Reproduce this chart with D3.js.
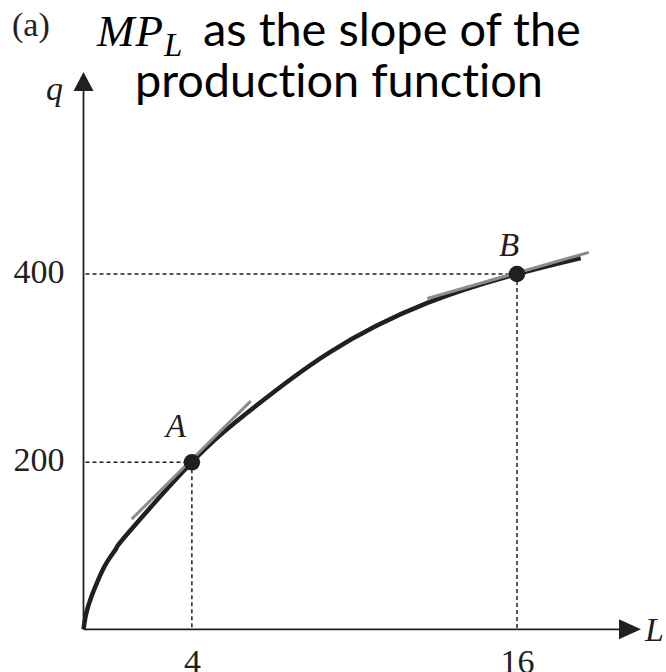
<!DOCTYPE html>
<html>
<head>
<meta charset="utf-8">
<script src="https://cdn.jsdelivr.net/npm/d3@7"></script>
<style>
  body { margin: 0; background: #fff; }
  svg { display: block; }
</style>
</head>
<body>
<svg id="chart" width="666" height="672"></svg>
<script>
'use strict';

// production function q(L)
const curveL = [0, 0.10, 0.29, 0.54, 0.84, 1.21, 1.64, 4, 6.02, 9.04, 12.67, 16, 18.35];
const curveQ = [0, 19, 39, 59, 79, 97, 115, 200, 252, 316, 369, 400, 417];

const pointNames = ['A', 'B'];
const pointL = [4, 16];
const pointQ = [200, 400];

// tangent segments at A and B: [L1, q1, L2, q2]
const tangentA = [1.78, 132, 6.17, 265];
const tangentB = [12.69, 374, 18.65, 423];

const xTicks = [4, 16];
const yTicks = [200, 400];

const ink = '#231f20';
const serif = '"Liberation Serif", "DejaVu Serif", serif';
const sans = 'Lato, "Noto Sans", sans-serif';

const originX = 83.5;
const originY = 629.3;
const xArrowTip = 641;
const yArrowTip = 72;

const svg = d3.select('#chart');

const x = d3.scaleLinear().domain([0, 16]).range([originX, 517]);
// the drawing is not to scale on q, so the scale is piecewise
const y = d3.scaleLinear().domain([0, 200, 400]).range([originY, 462.3, 274]);

// scale a text's font size so that it spans the given width
const fitWidth = (selection, width) => {
  const size = parseFloat(selection.style('font-size'));
  const len = selection.node().getComputedTextLength();
  selection.style('font-size', `${size * width / len}px`);
};

// title
svg.append('text')
  .attr('x', 12)
  .attr('y', 36)
  .style('font-family', serif)
  .style('font-size', '34px')
  .style('fill', ink)
  .text('(a)');

const mpl = svg.append('text')
  .attr('x', 97)
  .attr('y', 46)
  .style('font-family', serif)
  .style('font-style', 'italic')
  .style('fill', '#000');
mpl.append('tspan')
  .style('font-size', '45px')
  .attr('letter-spacing', 1)
  .text('MP');
mpl.append('tspan')
  .attr('dy', 10)
  .style('font-size', '33px')
  .text('L');

const title1 = svg.append('text')
  .attr('x', 203)
  .attr('y', 46)
  .style('font-family', sans)
  .style('font-size', '40px')
  .style('font-variant-ligatures', 'none')
  .style('fill', '#000')
  .text('as the slope of the');
fitWidth(title1, 378);

const title2 = svg.append('text')
  .attr('x', 135)
  .attr('y', 97)
  .style('font-family', sans)
  .style('font-size', '40px')
  .style('font-variant-ligatures', 'none')
  .style('fill', '#000')
  .text('production function');
fitWidth(title2, 408);

// axes
const xAxis = svg.append('g')
  .attr('transform', `translate(0,${originY})`)
  .call(d3.axisBottom(x).tickValues(xTicks).tickSize(0).tickPadding(20));
const yAxis = svg.append('g')
  .attr('transform', `translate(${originX},0)`)
  .call(d3.axisLeft(y).tickValues(yTicks).tickSize(0).tickPadding(19));

[xAxis, yAxis].forEach(g => {
  g.select('.domain').remove();
  g.selectAll('text')
    .style('font-family', serif)
    .style('font-size', '34px')
    .style('fill', ink);
});
yAxis.selectAll('text').attr('dy', '0.25em');

svg.append('line')
  .attr('x1', originX).attr('y1', originY)
  .attr('x2', xArrowTip - 12).attr('y2', originY)
  .style('stroke', ink).style('stroke-width', 1.8);
svg.append('line')
  .attr('x1', originX).attr('y1', originY)
  .attr('x2', originX).attr('y2', yArrowTip + 12)
  .style('stroke', ink).style('stroke-width', 1.8);

svg.append('path')
  .attr('d', `M${xArrowTip},${originY}L${xArrowTip - 22},${originY - 10}L${xArrowTip - 22},${originY + 10}Z`)
  .style('fill', ink);
svg.append('path')
  .attr('d', `M${originX},${yArrowTip}L${originX - 10},${yArrowTip + 19}L${originX + 10},${yArrowTip + 19}Z`)
  .style('fill', ink);

svg.append('text')
  .attr('x', 645)
  .attr('y', 641)
  .style('font-family', serif)
  .style('font-style', 'italic')
  .style('font-size', '34px')
  .style('fill', ink)
  .text('L');
svg.append('text')
  .attr('x', 46)
  .attr('y', 100)
  .style('font-family', serif)
  .style('font-style', 'italic')
  .style('font-size', '34px')
  .style('fill', ink)
  .text('q');

// dashed guides
const points = pointNames.map((name, i) => ({ name, L: pointL[i], q: pointQ[i] }));

const guides = svg.append('g')
  .style('stroke', ink)
  .style('stroke-width', 1.5)
  .style('stroke-dasharray', '4,3');
guides.selectAll('line.h')
  .data(points)
  .join('line')
  .attr('class', 'h')
  .attr('x1', x(0) + 2)
  .attr('y1', d => y(d.q))
  .attr('x2', d => x(d.L))
  .attr('y2', d => y(d.q));
guides.selectAll('line.v')
  .data(points)
  .join('line')
  .attr('class', 'v')
  .attr('x1', d => x(d.L))
  .attr('y1', d => y(d.q))
  .attr('x2', d => x(d.L))
  .attr('y2', y(0));

// production function
const curveData = curveL.map((L, i) => ({ L, q: curveQ[i] }));
const line = d3.line()
  .x(d => x(d.L))
  .y(d => y(d.q))
  .curve(d3.curveNatural);

svg.append('path')
  .datum(curveData)
  .attr('d', line)
  .style('fill', 'none')
  .style('stroke', ink)
  .style('stroke-width', 4.5);

// tangents
svg.selectAll('line.tangent')
  .data([tangentA, tangentB])
  .join('line')
  .attr('class', 'tangent')
  .attr('x1', d => x(d[0]))
  .attr('y1', d => y(d[1]))
  .attr('x2', d => x(d[2]))
  .attr('y2', d => y(d[3]))
  .style('stroke', '#8c8c8c')
  .style('stroke-width', 3);

// points
svg.selectAll('circle.pt')
  .data(points)
  .join('circle')
  .attr('class', 'pt')
  .attr('cx', d => x(d.L))
  .attr('cy', d => y(d.q))
  .attr('r', 8.3)
  .style('fill', ink);

const labelOffset = { A: [-16, -25], B: [-8, -18] };
svg.selectAll('text.pt')
  .data(points)
  .join('text')
  .attr('class', 'pt')
  .attr('x', d => x(d.L) + labelOffset[d.name][0])
  .attr('y', d => y(d.q) + labelOffset[d.name][1])
  .attr('text-anchor', 'middle')
  .style('font-family', serif)
  .style('font-style', 'italic')
  .style('font-size', '33px')
  .style('fill', ink)
  .text(d => d.name);
</script>
</body>
</html>
